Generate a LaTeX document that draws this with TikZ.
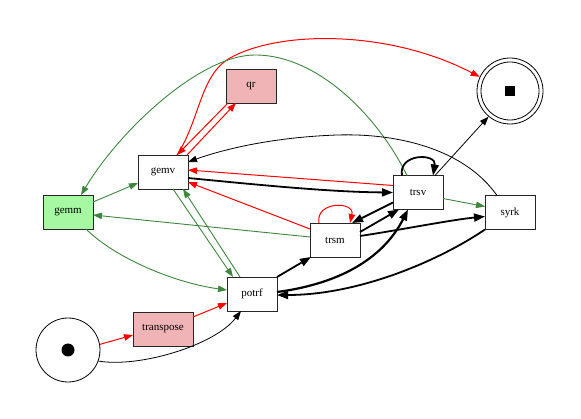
\documentclass[tikz,border=0pt]{standalone}
\usepackage{fontspec}
\setmainfont{Liberation Serif}
\usetikzlibrary{arrows.meta,calc}
\definecolor{eg}{RGB}{62,134,62}
\definecolor{lgreen}{RGB}{166,248,162}
\definecolor{lpink}{RGB}{240,180,182}
\begin{document}
\begin{tikzpicture}[x=1pt,y=-1pt,
  box/.style={draw=black!85,line width=0.8pt,minimum width=50pt,minimum height=34pt,inner sep=0pt,font=\fontsize{11}{12}\selectfont},
  thinb/.style={line width=0.8pt,-{Triangle[length=9pt,width=6.5pt]}},
  thinr/.style={red,line width=1pt,-{Triangle[length=9pt,width=6.5pt]}},
  thing/.style={eg,line width=0.9pt,-{Triangle[length=9pt,width=6.5pt]}},
  thk/.style={line width=1.8pt,-{Triangle[length=11pt,width=8pt]}}
]
\useasboundingbox (0,0) rectangle (581,419);
% nodes
\node[box,fill=lgreen] (gemm) at (68,212) {gemm};
\node[box] (gemv) at (163,172) {gemv};
\node[box,fill=lpink] (qr) at (251,86) {qr};
\node[box] (trsv) at (418,192.5) {trsv};
\node[box] (syrk) at (510,212.5) {syrk};
\node[box] (trsm) at (335,240) {trsm};
\node[box] (potrf) at (252,294) {potrf};
\node[box,fill=lpink,minimum width=60pt] (transpose) at (163,329) {transpose};
\node[circle,draw,line width=0.8pt,minimum size=64pt,inner sep=0pt] (start) at (68,350) {};
\node[circle,fill,minimum size=13pt,inner sep=0pt] (startdot) at (start) {};
\node[circle,draw,line width=0.8pt,minimum size=66pt,inner sep=0pt] (endn) at (510,91) {};
\node[circle,draw,line width=0.8pt,minimum size=58pt,inner sep=0pt] (endin) at (endn) {};
\node[fill,minimum size=10pt,inner sep=0pt] (endmark) at (endn) {};
% edges
\draw[thinr] (start.10) -- ($(transpose)+(-30,6)$);
\draw[thinb] (start.-20) .. controls (140,368) and (215,345) .. ($(potrf)+(-11,17)$);
\draw[thinr] ($(transpose)+(30,-12)$) -- ($(potrf)+(-25,9)$);
\draw[thing] ($(gemm)+(25,-10)$) -- ($(gemv)+(-25,11)$);
\draw[thing] ($(gemm)+(18,17)$) .. controls (115,258) and (175,283) .. ($(potrf)+(-25,-4)$);
\draw[thing] ($(gemv)+(10,17)$) -- ($(potrf)+(-19,-17)$);
\draw[thing] ($(potrf)+(-12,-17)$) -- ($(gemv)+(20,17)$);
\draw[thinr] ($(qr)+(-23,17)$) -- ($(gemv)+(14,-17)$);
\draw[thinr] ($(gemv)+(24,-17)$) -- ($(qr)+(-15,17)$);
\draw[thinr] ($(gemv)+(14,-17)$) .. controls (200,120) and (200,75) .. (230,58) .. controls (280,30) and (390,30) .. (endn.155);
\draw[thing] ($(trsv)+(-11,-17)$) .. controls (380,120) and (320,55) .. (255,55) .. controls (200,55) and (120,130) .. ($(gemm)+(13,-17)$);
\draw[thinb] ($(syrk)+(-13,-17)$) .. controls (465,150) and (400,133) .. (337,135) .. controls (280,137) and (230,147) .. ($(gemv)+(25,-10)$);
\draw[thinr] ($(trsv)+(-25,-7)$) -- ($(gemv)+(25,-2)$);
\draw[thk] ($(gemv)+(25,6)$) .. controls (260,185) and (330,192) .. ($(trsv)+(-25,0)$);
\draw[thinr] ($(trsm)+(-25,-11)$) -- ($(gemv)+(25,10)$);
\draw[thing] ($(trsm)+(-25,-3)$) -- ($(gemm)+(25,3)$);
\draw[thinr] ($(trsm)+(-16,-17)$) .. controls (315,201) and (355,201) .. ($(trsm)+(15,-17)$);
\draw[thk] ($(trsv)+(-16,-17)$) .. controls (398,153) and (437,153) .. ($(trsv)+(15,-17)$);
\draw[thinb] ($(trsv)+(17,-17)$) -- (endn.-130);
\draw[thing] ($(trsv)+(25,6)$) -- ($(syrk)+(-25,-6)$);
\draw[thk] ($(trsv)+(-25,10)$) -- ($(trsm)+(17,-17)$);
\draw[thk] ($(trsm)+(25,-8)$) -- ($(trsv)+(-19,17)$);
\draw[thk] ($(trsm)+(25,-4)$) .. controls (400,230) and (450,220) .. ($(syrk)+(-25,4)$);
\draw[thk] ($(potrf)+(25,-17)$) -- ($(trsm)+(-24,17)$);
\draw[thk,line width=2.2pt] ($(potrf)+(25,-2)$) .. controls (345,283) and (385,255) .. ($(trsv)+(-10,17)$);
\draw[thk] ($(syrk)+(-25,17)$) .. controls (440,260) and (360,295) .. ($(potrf)+(25,1)$);
\end{tikzpicture}
\end{document}
